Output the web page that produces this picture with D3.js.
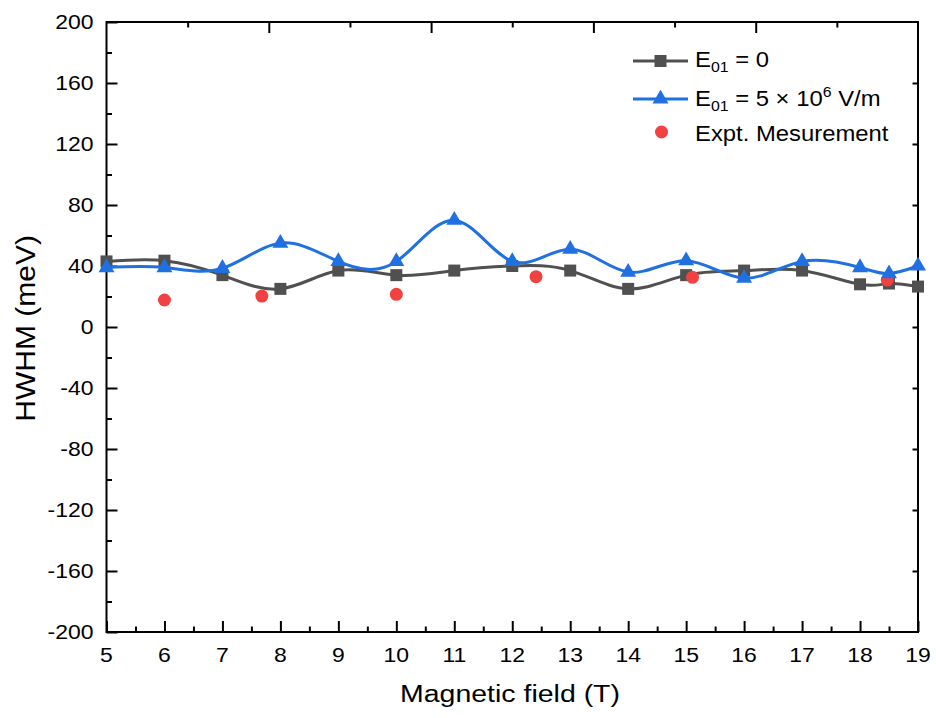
<!DOCTYPE html>
<html><head><meta charset="utf-8">
<script src="https://cdn.jsdelivr.net/npm/d3@7"></script>
<style>body{margin:0;background:#fff}svg{display:block;font-family:Arial,"Liberation Sans",sans-serif}</style>
</head><body>
<script>
const fields = [5,6,7,8,9,10,11,12,13,14,15,16,17,18,18.5,19];
const hwhmE0 = [43,43.5,34,25,37,34,37,40,37,25,34,37,37,28,28.5,26.5];
const hwhmE5 = [39,39,38.5,55,43,43,70,43,51,36,43.5,32,43,39,35,40];
const exptField = [6,7.68,10,12.41,15.11,18.47];
const exptHwhm = [17.7,20.3,21.4,33,32.6,30.8];
const xTicks = [5,6,7,8,9,10,11,12,13,14,15,16,17,18,19];
const yTicks = [-200,-160,-120,-80,-40,0,40,80,120,160,200];

const W=936,H=718;
const L=106.5,R=918,T=22,B=632;
const svg=d3.select("body").append("svg").attr("width",W).attr("height",H);
const x=d3.scaleLinear().domain([5,19]).range([L,R]);
const y=d3.scaleLinear().domain([-200,200]).range([B,T]);
const xTop=d3.scaleLinear().domain([0,5]).range([L,R]);

const gray="#505050", blue="#1f70e0", red="#f24141";
const SX=1.12;

const ax=svg.append("g");
function ticks(g){g.selectAll("line").attr("stroke","#000").attr("stroke-width",2);g.select(".domain").remove();}
ax.append("g").attr("transform",`translate(0,${B})`).call(d3.axisBottom(x).tickValues(xTicks).tickSize(-11).tickFormat("")).call(ticks);
ax.append("g").attr("transform",`translate(0,${B})`).call(d3.axisBottom(x).tickValues(d3.range(5.5,19,1)).tickSize(-5.5).tickFormat("")).call(ticks);
ax.append("g").attr("transform",`translate(${L},0)`).call(d3.axisLeft(y).tickValues(yTicks).tickSize(-11).tickFormat("")).call(ticks);
ax.append("g").attr("transform",`translate(${L},0)`).call(d3.axisLeft(y).tickValues(d3.range(-180,200,40)).tickSize(-5.5).tickFormat("")).call(ticks);
ax.append("g").attr("transform",`translate(0,${T})`).call(d3.axisTop(xTop).tickValues([1,2,3,4]).tickSize(-11).tickFormat("")).call(ticks);
ax.append("g").attr("transform",`translate(0,${T})`).call(d3.axisTop(xTop).tickValues([0.5,1.5,2.5,3.5,4.5]).tickSize(-5.5).tickFormat("")).call(ticks);
ax.append("g").attr("transform",`translate(${R},0)`).call(d3.axisRight(y).tickValues(d3.range(-160,200,40)).tickSize(-5.5).tickFormat("")).call(ticks);
svg.append("rect").attr("x",L).attr("y",T).attr("width",R-L).attr("height",B-T).attr("fill","none").attr("stroke","#000").attr("stroke-width",2);

// tick labels
svg.append("g").selectAll("text").data(xTicks).join("text")
  .attr("transform",d=>`translate(${x(d)},662) scale(${SX},1)`).attr("text-anchor","middle").attr("font-size",20.5).attr("fill","#000").text(d=>d);
svg.append("g").selectAll("text").data(yTicks).join("text")
  .attr("transform",d=>`translate(93.5,${y(d)+7.3}) scale(${SX},1)`).attr("text-anchor","end").attr("font-size",20.5).attr("fill","#000").text(d=>d);

// axis titles
svg.append("text").attr("x",400).attr("y",702).attr("font-size",23.5)
  .attr("textLength",220).attr("lengthAdjust","spacingAndGlyphs").text("Magnetic field (T)");
svg.append("text").attr("transform",`translate(35,421.7) rotate(-90)`).attr("x",0).attr("y",0).attr("font-size",28)
  .attr("textLength",186.7).attr("lengthAdjust","spacingAndGlyphs").text("HWHM (meV)");

// series
const line=d3.line().curve(d3.curveNatural);
const plot=svg.append("g");
const pE0=fields.map((f,i)=>[x(f),y(hwhmE0[i])]);
const pE5=fields.map((f,i)=>[x(f),y(hwhmE5[i])]);
const tri=d3.symbol().type(d3.symbolTriangle).size(110);

plot.append("path").attr("d",line(pE0)).attr("fill","none").attr("stroke",gray).attr("stroke-width",3);
plot.append("g").selectAll("rect").data(pE0).join("rect")
  .attr("x",d=>d[0]-6).attr("y",d=>d[1]-6).attr("width",12).attr("height",12).attr("fill",gray);

plot.append("g").selectAll("circle").data(exptField).join("circle")
  .attr("cx",d=>x(d)).attr("cy",(d,i)=>y(exptHwhm[i])).attr("r",6.5).attr("fill",red);

plot.append("path").attr("d",line(pE5)).attr("fill","none").attr("stroke",blue).attr("stroke-width",3);
plot.append("g").selectAll("path").data(pE5).join("path")
  .attr("transform",d=>`translate(${d[0]},${d[1]})`).attr("d",tri).attr("fill",blue);

// legend
const lg=svg.append("g");
lg.append("line").attr("x1",633).attr("x2",688).attr("y1",61).attr("y2",61).attr("stroke",gray).attr("stroke-width",3);
lg.append("rect").attr("x",654.5).attr("y",55).attr("width",12).attr("height",12).attr("fill",gray);
lg.append("line").attr("x1",633).attr("x2",688).attr("y1",99).attr("y2",99).attr("stroke",blue).attr("stroke-width",3);
lg.append("path").attr("transform","translate(660.5,99)").attr("d",tri).attr("fill",blue);
lg.append("circle").attr("cx",661.5).attr("cy",132).attr("r",6.5).attr("fill",red);

const LS=1.06;
const t1=lg.append("text").attr("transform",`translate(695,67) scale(${LS},1)`).attr("font-size",22.5);
t1.append("tspan").text("E");
t1.append("tspan").attr("font-size",15).attr("dy",5).text("01");
t1.append("tspan").attr("dy",-5).text(" = 0");
const t2=lg.append("text").attr("transform",`translate(695,106) scale(${LS},1)`).attr("font-size",22.5);
t2.append("tspan").text("E");
t2.append("tspan").attr("font-size",15).attr("dy",5).text("01");
t2.append("tspan").attr("dy",-5).text(" = 5 \u00d7 10");
t2.append("tspan").attr("font-size",15).attr("dy",-9).text("6");
t2.append("tspan").attr("dy",9).text(" V/m");
lg.append("text").attr("transform",`translate(695,141) scale(${LS},1)`).attr("font-size",22.5).text("Expt. Mesurement");
</script>
</body></html>
